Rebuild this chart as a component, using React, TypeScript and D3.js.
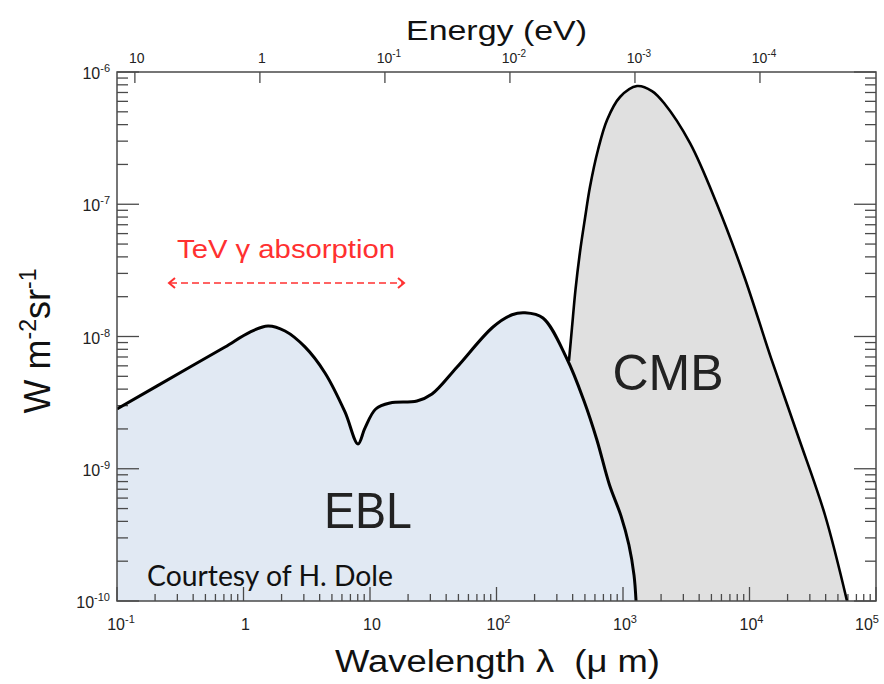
import React from "react";
import * as d3 from "d3";

// ---- data ----
const eblWavelength = [0.1, 0.378, 0.715, 1.125, 1.563, 2.13, 3.06, 4.41, 6.34, 8.04, 9.12, 11.1, 14.4, 23.5, 30.9, 48.8, 93.8, 132.7, 168, 233, 361, 492, 622, 780, 964, 1114, 1222, 1268];
const eblFlux = [2.83e-9, 5.88e-9, 8.34e-9, 1.08e-8, 1.2e-8, 1.1e-8, 8.34e-9, 5.3e-9, 2.69e-9, 1.54e-9, 2.03e-9, 2.83e-9, 3.14e-9, 3.25e-9, 3.67e-9, 5.88e-9, 1.18e-8, 1.46e-8, 1.51e-8, 1.38e-8, 6.76e-9, 3.25e-9, 1.65e-9, 7.6e-10, 4.4e-10, 2.65e-10, 1.57e-10, 1.0e-10];

const cmbWavelength = [374, 395, 421, 457, 501, 548, 634, 748, 947, 1291, 1695, 2109, 3388, 5534, 9056, 14800, 24200, 39500, 59000];
const cmbFlux = [6.53e-9, 1.16e-8, 2.25e-8, 4.35e-8, 7.87e-8, 1.35e-7, 2.57e-7, 4.34e-7, 6.47e-7, 7.83e-7, 7.18e-7, 5.83e-7, 2.9e-7, 1.0e-7, 2.87e-8, 6.87e-9, 1.77e-9, 4.47e-10, 1.0e-10];

const wavelengthDomain = [0.1, 1e5];
const fluxDomain = [1e-10, 1e-6];
const energyDomain = [13.9, 1.18e-5];

const wavelengthTickExps = [-1, 0, 1, 2, 3, 4, 5];
const fluxTickExps = [-10, -9, -8, -7, -6];
const energyTickExps = [1, 0, -1, -2, -3, -4];

// ---- layout ----
const W = 884, H = 684;
const L = 117, R = 876, T = 72, B = 601;
const axisColor = "#4a4a4a";
const font = "'Liberation Sans', Arial, Helvetica, sans-serif";

function powLabel(e: number, supSize: number, dy: number) {
  if (e === 0) return <tspan>1</tspan>;
  if (e === 1) return <tspan>10</tspan>;
  return (
    <>
      <tspan>10</tspan>
      <tspan dy={-dy} fontSize={supSize}>{String(e)}</tspan>
    </>
  );
}

export default function App() {
  const x = d3.scaleLog().domain(wavelengthDomain).range([L, R]);
  const y = d3.scaleLog().domain(fluxDomain).range([B, T]);
  const xe = d3.scaleLog().domain(energyDomain).range([L, R]);

  const ebl = eblWavelength.map((l, i) => [l, eblFlux[i]] as [number, number]);
  const cmb = cmbWavelength.map((l, i) => [l, cmbFlux[i]] as [number, number]);

  const curve = d3.curveCatmullRom.alpha(0.5);
  const line = d3.line<[number, number]>().x(d => x(d[0])).y(d => y(d[1])).curve(curve);
  const area = d3.area<[number, number]>().x(d => x(d[0])).y0(B).y1(d => y(d[1])).curve(curve);

  const isMajor = (v: number) => Math.abs(Math.log10(v) - Math.round(Math.log10(v))) < 1e-6;
  const xTicks = x.ticks();
  const yTicks = y.ticks();

  return (
    <svg width={W} height={H} style={{ position: "absolute", left: 0, top: 0, background: "#fff" }} fontFamily={font}>
      <defs>
        <clipPath id="plotClip">
          <rect x={L} y={T} width={R - L} height={B - T} />
        </clipPath>
      </defs>
      {/* fills */}
      <g clipPath="url(#plotClip)">
        <path d={area(cmb) || ""} fill="#e0e0e0" />
        <path d={area(ebl) || ""} fill="#e1e9f3" />
      </g>

      {/* ticks */}
      <g stroke={axisColor} strokeWidth={1.3}>
        {xTicks.map((v, i) => {
          const len = isMajor(v) ? 14 : 7;
          return <line key={"xb" + i} x1={x(v)} x2={x(v)} y1={B} y2={B - len} />;
        })}
        {yTicks.map((v, i) => {
          const len = isMajor(v) ? 22 : 11;
          return (
            <g key={"y" + i}>
              <line x1={L} x2={L + len} y1={y(v)} y2={y(v)} />
              <line x1={R} x2={R - len} y1={y(v)} y2={y(v)} />
            </g>
          );
        })}
        {energyTickExps.map(e => (
          <line key={"e" + e} x1={xe(Math.pow(10, e))} x2={xe(Math.pow(10, e))} y1={T} y2={T + 11} />
        ))}
      </g>

      {/* curves */}
      <g clipPath="url(#plotClip)">
        <path d={line(cmb) || ""} fill="none" stroke="#000" strokeWidth={2.6} strokeLinejoin="round" />
        <path d={line(ebl) || ""} fill="none" stroke="#000" strokeWidth={3} strokeLinejoin="round" />
      </g>

      {/* frame */}
      <rect x={L} y={T} width={R - L} height={B - T} fill="none" stroke={axisColor} strokeWidth={1.5} />

      {/* tick labels */}
      <g fill="#222" fontSize={16}>
        {fluxTickExps.map(e => (
          <text key={"yl" + e} x={110} y={y(Math.pow(10, e)) + 7} textAnchor="end">
            {powLabel(e, 11, 7)}
          </text>
        ))}
        {wavelengthTickExps.map(e => (
          <text key={"xl" + e} x={x(Math.pow(10, e)) + (e === 5 ? -9 : e === -1 ? 4 : 2)} y={630} textAnchor="middle">
            {powLabel(e, 11, 7)}
          </text>
        ))}
      </g>
      <g fill="#222" fontSize={14}>
        {energyTickExps.map(e => (
          <text key={"el" + e} x={xe(Math.pow(10, e)) + (e < 0 ? 4 : 2)} y={63} textAnchor="middle">
            {powLabel(e, 10, 6)}
          </text>
        ))}
      </g>

      {/* axis titles */}
      <text x={(L + R) / 2} y={40} textAnchor="middle" fontSize={28} fill="#111" textLength={181} lengthAdjust="spacingAndGlyphs">Energy (eV)</text>
      <text x={(L + R) / 2 + 1} y={672} textAnchor="middle" fontSize={31} fill="#111" textLength={325} lengthAdjust="spacingAndGlyphs" style={{ whiteSpace: "pre" }}>{"Wavelength λ\u00A0\u00A0(μ m)"}</text>
      <text transform={`translate(50,${341}) rotate(-90)`} textAnchor="middle" fontSize={36} fill="#111">
        <tspan>W m</tspan>
        <tspan dy={-14} fontSize={23}>-2</tspan>
        <tspan dy={14}>sr</tspan>
        <tspan dy={-14} fontSize={23}>-1</tspan>
      </text>

      {/* annotations */}
      <text x={286} y={258} textAnchor="middle" fontSize={25} fill="#ff3030" textLength={218} lengthAdjust="spacingAndGlyphs">TeV γ absorption</text>
      <g stroke="#ff3030" strokeWidth={1.6} fill="none">
        <line x1={170} x2={403} y1={283} y2={283} strokeDasharray="7 4" />
        <polyline points="175,278 169,283 175,288" strokeWidth={2} />
        <polyline points="398,278 404,283 398,288" strokeWidth={2} />
      </g>
      <text x={668} y={390} textAnchor="middle" fontSize={50} fill="#222">CMB</text>
      <text x={368} y={528} textAnchor="middle" fontSize={50} fill="#222" textLength={88} lengthAdjust="spacingAndGlyphs">EBL</text>
      <text x={147} y={586} fontSize={28} fill="#111" fontFamily="Lato, 'Open Sans', sans-serif" textLength={246} lengthAdjust="spacingAndGlyphs">Courtesy of H. Dole</text>
    </svg>
  );
}
